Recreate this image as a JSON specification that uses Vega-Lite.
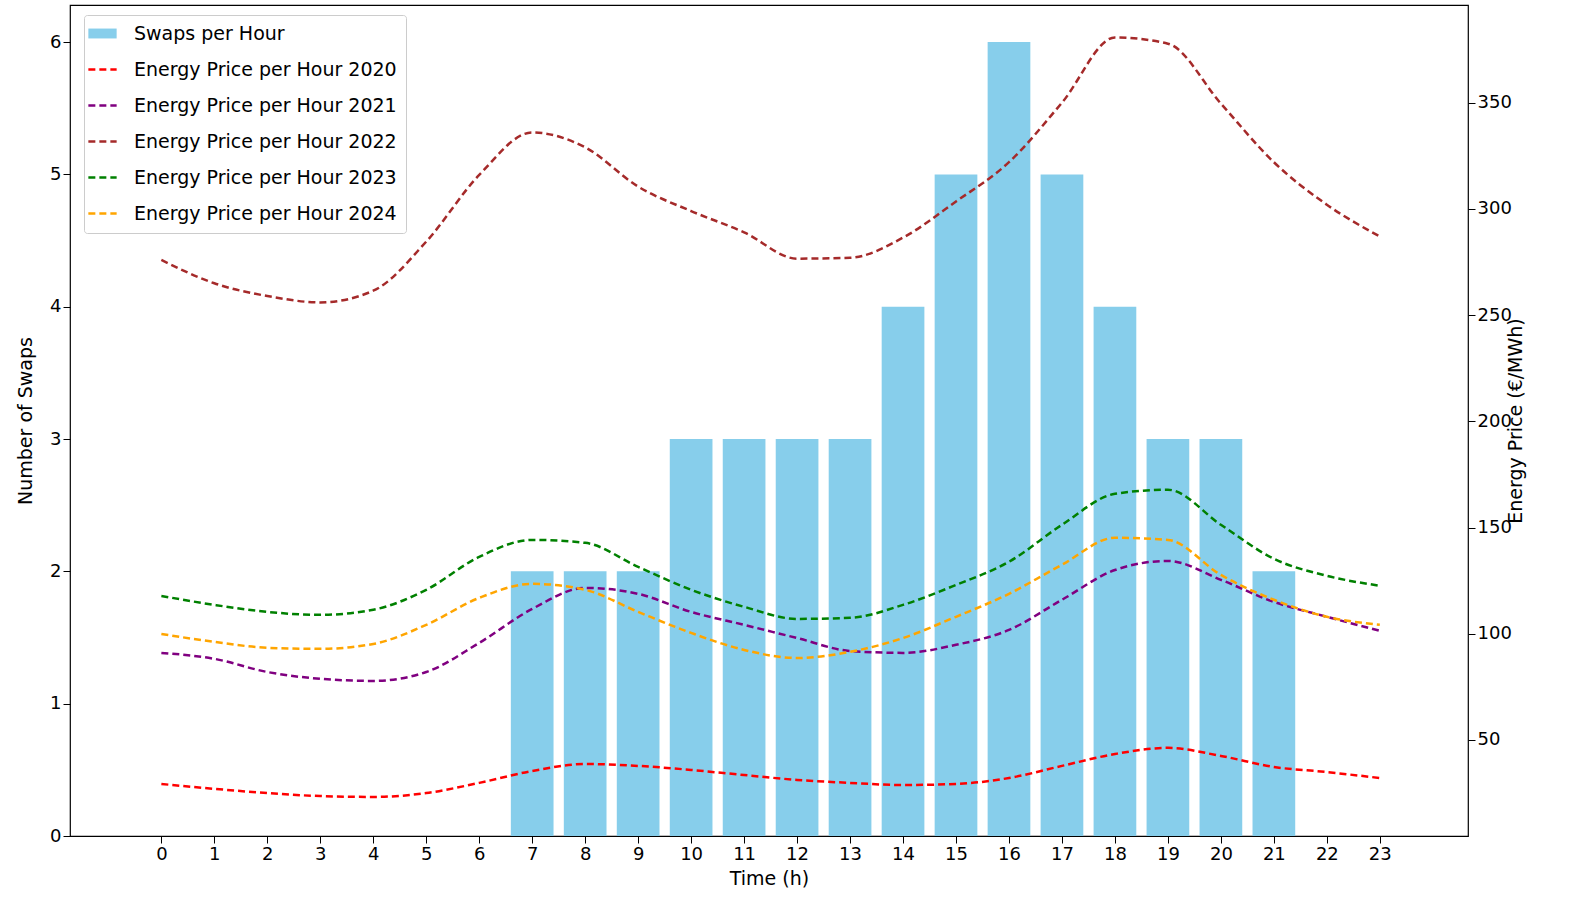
{
"$schema":"https://vega.github.io/schema/vega-lite/v6.json",
"width":1398,"height":831,
"autosize":{"type":"none"},
"padding":{"left":70,"top":5,"right":115,"bottom":86},
"config":{"font":"DejaVu Sans","view":{"stroke":"black","strokeWidth":1.2},"axis":{"grid":false,"domain":false,"labelFont":"DejaVu Sans","titleFont":"DejaVu Sans","labelFontSize":18,"titleFontSize":19,"titleFontWeight":"normal","labelColor":"black","titleColor":"black","tickColor":"black","tickSize":7}},
"datasets":{
"swaps":[{"hour":7,"swaps":2,"series":"Swaps per Hour"},{"hour":8,"swaps":2,"series":"Swaps per Hour"},{"hour":9,"swaps":2,"series":"Swaps per Hour"},{"hour":10,"swaps":3,"series":"Swaps per Hour"},{"hour":11,"swaps":3,"series":"Swaps per Hour"},{"hour":12,"swaps":3,"series":"Swaps per Hour"},{"hour":13,"swaps":3,"series":"Swaps per Hour"},{"hour":14,"swaps":4,"series":"Swaps per Hour"},{"hour":15,"swaps":5,"series":"Swaps per Hour"},{"hour":16,"swaps":6,"series":"Swaps per Hour"},{"hour":17,"swaps":5,"series":"Swaps per Hour"},{"hour":18,"swaps":4,"series":"Swaps per Hour"},{"hour":19,"swaps":3,"series":"Swaps per Hour"},{"hour":20,"swaps":3,"series":"Swaps per Hour"},{"hour":21,"swaps":2,"series":"Swaps per Hour"}],
"prices":[
{"series":"Energy Price per Hour 2020","hour":0,"price":29.3},{"series":"Energy Price per Hour 2020","hour":1,"price":27},{"series":"Energy Price per Hour 2020","hour":2,"price":25},{"series":"Energy Price per Hour 2020","hour":3,"price":23.6},{"series":"Energy Price per Hour 2020","hour":4,"price":23.2},{"series":"Energy Price per Hour 2020","hour":5,"price":25},{"series":"Energy Price per Hour 2020","hour":6,"price":29.8},{"series":"Energy Price per Hour 2020","hour":7,"price":35.4},{"series":"Energy Price per Hour 2020","hour":8,"price":38.7},{"series":"Energy Price per Hour 2020","hour":9,"price":37.8},{"series":"Energy Price per Hour 2020","hour":10,"price":35.9},{"series":"Energy Price per Hour 2020","hour":11,"price":33.5},{"series":"Energy Price per Hour 2020","hour":12,"price":31.2},{"series":"Energy Price per Hour 2020","hour":13,"price":29.8},{"series":"Energy Price per Hour 2020","hour":14,"price":28.8},{"series":"Energy Price per Hour 2020","hour":15,"price":29.3},{"series":"Energy Price per Hour 2020","hour":16,"price":32.1},{"series":"Energy Price per Hour 2020","hour":17,"price":37.8},{"series":"Energy Price per Hour 2020","hour":18,"price":43.4},{"series":"Energy Price per Hour 2020","hour":19,"price":46.3},{"series":"Energy Price per Hour 2020","hour":20,"price":42.5},{"series":"Energy Price per Hour 2020","hour":21,"price":37.3},{"series":"Energy Price per Hour 2020","hour":22,"price":34.9},{"series":"Energy Price per Hour 2020","hour":23,"price":32.1},
{"series":"Energy Price per Hour 2021","hour":0,"price":91},{"series":"Energy Price per Hour 2021","hour":1,"price":88.2},{"series":"Energy Price per Hour 2021","hour":2,"price":82},{"series":"Energy Price per Hour 2021","hour":3,"price":78.8},{"series":"Energy Price per Hour 2021","hour":4,"price":77.8},{"series":"Energy Price per Hour 2021","hour":5,"price":82},{"series":"Energy Price per Hour 2021","hour":6,"price":95.7},{"series":"Energy Price per Hour 2021","hour":7,"price":111.7},{"series":"Energy Price per Hour 2021","hour":8,"price":121.6},{"series":"Energy Price per Hour 2021","hour":9,"price":118.8},{"series":"Energy Price per Hour 2021","hour":10,"price":110.3},{"series":"Energy Price per Hour 2021","hour":11,"price":104.2},{"series":"Energy Price per Hour 2021","hour":12,"price":98},{"series":"Energy Price per Hour 2021","hour":13,"price":91.9},{"series":"Energy Price per Hour 2021","hour":14,"price":91},{"series":"Energy Price per Hour 2021","hour":15,"price":94.8},{"series":"Energy Price per Hour 2021","hour":16,"price":101.8},{"series":"Energy Price per Hour 2021","hour":17,"price":116},{"series":"Energy Price per Hour 2021","hour":18,"price":130},{"series":"Energy Price per Hour 2021","hour":19,"price":134.3},{"series":"Energy Price per Hour 2021","hour":20,"price":125.4},{"series":"Energy Price per Hour 2021","hour":21,"price":115},{"series":"Energy Price per Hour 2021","hour":22,"price":108},{"series":"Energy Price per Hour 2021","hour":23,"price":101.4},
{"series":"Energy Price per Hour 2022","hour":0,"price":276},{"series":"Energy Price per Hour 2022","hour":1,"price":265},{"series":"Energy Price per Hour 2022","hour":2,"price":259},{"series":"Energy Price per Hour 2022","hour":3,"price":256},{"series":"Energy Price per Hour 2022","hour":4,"price":261.5},{"series":"Energy Price per Hour 2022","hour":5,"price":284.6},{"series":"Energy Price per Hour 2022","hour":6,"price":316},{"series":"Energy Price per Hour 2022","hour":7,"price":336},{"series":"Energy Price per Hour 2022","hour":8,"price":329},{"series":"Energy Price per Hour 2022","hour":9,"price":310.5},{"series":"Energy Price per Hour 2022","hour":10,"price":299},{"series":"Energy Price per Hour 2022","hour":11,"price":289},{"series":"Energy Price per Hour 2022","hour":12,"price":276.6},{"series":"Energy Price per Hour 2022","hour":13,"price":277},{"series":"Energy Price per Hour 2022","hour":14,"price":286.5},{"series":"Energy Price per Hour 2022","hour":15,"price":303.5},{"series":"Energy Price per Hour 2022","hour":16,"price":322},{"series":"Energy Price per Hour 2022","hour":17,"price":350},{"series":"Energy Price per Hour 2022","hour":18,"price":380.7},{"series":"Energy Price per Hour 2022","hour":19,"price":377.8},{"series":"Energy Price per Hour 2022","hour":20,"price":349.6},{"series":"Energy Price per Hour 2022","hour":21,"price":322},{"series":"Energy Price per Hour 2022","hour":22,"price":302},{"series":"Energy Price per Hour 2022","hour":23,"price":287},
{"series":"Energy Price per Hour 2023","hour":0,"price":117.8},{"series":"Energy Price per Hour 2023","hour":1,"price":113.6},{"series":"Energy Price per Hour 2023","hour":2,"price":110.3},{"series":"Energy Price per Hour 2023","hour":3,"price":108.9},{"series":"Energy Price per Hour 2023","hour":4,"price":111.3},{"series":"Energy Price per Hour 2023","hour":5,"price":120.7},{"series":"Energy Price per Hour 2023","hour":6,"price":136.2},{"series":"Energy Price per Hour 2023","hour":7,"price":144.2},{"series":"Energy Price per Hour 2023","hour":8,"price":142.8},{"series":"Energy Price per Hour 2023","hour":9,"price":131.5},{"series":"Energy Price per Hour 2023","hour":10,"price":120.7},{"series":"Energy Price per Hour 2023","hour":11,"price":112.7},{"series":"Energy Price per Hour 2023","hour":12,"price":107},{"series":"Energy Price per Hour 2023","hour":13,"price":107.5},{"series":"Energy Price per Hour 2023","hour":14,"price":113.6},{"series":"Energy Price per Hour 2023","hour":15,"price":123},{"series":"Energy Price per Hour 2023","hour":16,"price":133.9},{"series":"Energy Price per Hour 2023","hour":17,"price":151.3},{"series":"Energy Price per Hour 2023","hour":18,"price":165.9},{"series":"Energy Price per Hour 2023","hour":19,"price":167.8},{"series":"Energy Price per Hour 2023","hour":20,"price":151.3},{"series":"Energy Price per Hour 2023","hour":21,"price":135.3},{"series":"Energy Price per Hour 2023","hour":22,"price":127.3},{"series":"Energy Price per Hour 2023","hour":23,"price":122.6},
{"series":"Energy Price per Hour 2024","hour":0,"price":99.9},{"series":"Energy Price per Hour 2024","hour":1,"price":96.2},{"series":"Energy Price per Hour 2024","hour":2,"price":93.4},{"series":"Energy Price per Hour 2024","hour":3,"price":92.9},{"series":"Energy Price per Hour 2024","hour":4,"price":95.2},{"series":"Energy Price per Hour 2024","hour":5,"price":104.2},{"series":"Energy Price per Hour 2024","hour":6,"price":116.9},{"series":"Energy Price per Hour 2024","hour":7,"price":123.5},{"series":"Energy Price per Hour 2024","hour":8,"price":120.7},{"series":"Energy Price per Hour 2024","hour":9,"price":110.3},{"series":"Energy Price per Hour 2024","hour":10,"price":100.4},{"series":"Energy Price per Hour 2024","hour":11,"price":92.4},{"series":"Energy Price per Hour 2024","hour":12,"price":88.6},{"series":"Energy Price per Hour 2024","hour":13,"price":91.5},{"series":"Energy Price per Hour 2024","hour":14,"price":98},{"series":"Energy Price per Hour 2024","hour":15,"price":108},{"series":"Energy Price per Hour 2024","hour":16,"price":118.8},{"series":"Energy Price per Hour 2024","hour":17,"price":132.5},{"series":"Energy Price per Hour 2024","hour":18,"price":145.2},{"series":"Energy Price per Hour 2024","hour":19,"price":144.2},{"series":"Energy Price per Hour 2024","hour":20,"price":127.7},{"series":"Energy Price per Hour 2024","hour":21,"price":116},{"series":"Energy Price per Hour 2024","hour":22,"price":108},{"series":"Energy Price per Hour 2024","hour":23,"price":104.2}
]},
"encoding":{"x":{"field":"hour","type":"quantitative","scale":{"domain":[-1.63,24.57],"nice":false,"zero":false},"axis":{"values":[0,1,2,3,4,5,6,7,8,9,10,11,12,13,14,15,16,17,18,19,20,21,22,23],"title":"Time (h)","titlePadding":6}}},
"layer":[
{"data":{"name":"swaps"},"mark":{"type":"bar","size":42.7,"color":"#87CEEB"},
"encoding":{"y":{"field":"swaps","type":"quantitative","scale":{"domain":[0,6.28],"nice":false},"axis":{"title":"Number of Swaps","orient":"left","values":[0,1,2,3,4,5,6],"titlePadding":14}},
"color":{"field":"series","type":"nominal","scale":{"domain":["Swaps per Hour","Energy Price per Hour 2020","Energy Price per Hour 2021","Energy Price per Hour 2022","Energy Price per Hour 2023","Energy Price per Hour 2024"],"range":["#87CEEB","red","purple","brown","green","orange"]},
"legend":{"title":null,"orient":"none","legendX":14,"legendY":10,"labelFontSize":19,"labelFont":"DejaVu Sans","labelColor":"black","labelLimit":500,"rowPadding":16,"symbolSize":800,"symbolStrokeWidth":2.5,"fillColor":"white","strokeColor":"#cccccc","padding":9,"cornerRadius":3,"labelOffset":22,
"encode":{"symbols":{"update":{"shape":{"signal":"datum.value==='Swaps per Hour' ? 'M-1,-0.35H1V0.35H-1Z' : 'stroke'"},"fill":{"signal":"datum.value==='Swaps per Hour' ? '#87CEEB' : 'transparent'"},"stroke":{"signal":"scale('color', datum.value)"},"strokeWidth":{"signal":"datum.value==='Swaps per Hour' ? 0 : 2.5"},"strokeDash":{"signal":"datum.value==='Swaps per Hour' ? [] : [7,4]"}}}}}}}},
{"data":{"name":"prices"},"mark":{"type":"line","strokeWidth":2.5,"strokeDash":[7,4],"interpolate":"monotone"},
"encoding":{"y":{"field":"price","type":"quantitative","scale":{"domain":[4.8,396],"nice":false,"zero":false},"axis":{"title":"Energy Price (€/MWh)","orient":"right","titleAngle":270,"values":[50,100,150,200,250,300,350],"titlePadding":14}},
"color":{"field":"series","type":"nominal","legend":null}}}
],
"resolve":{"scale":{"y":"independent"}}
}
